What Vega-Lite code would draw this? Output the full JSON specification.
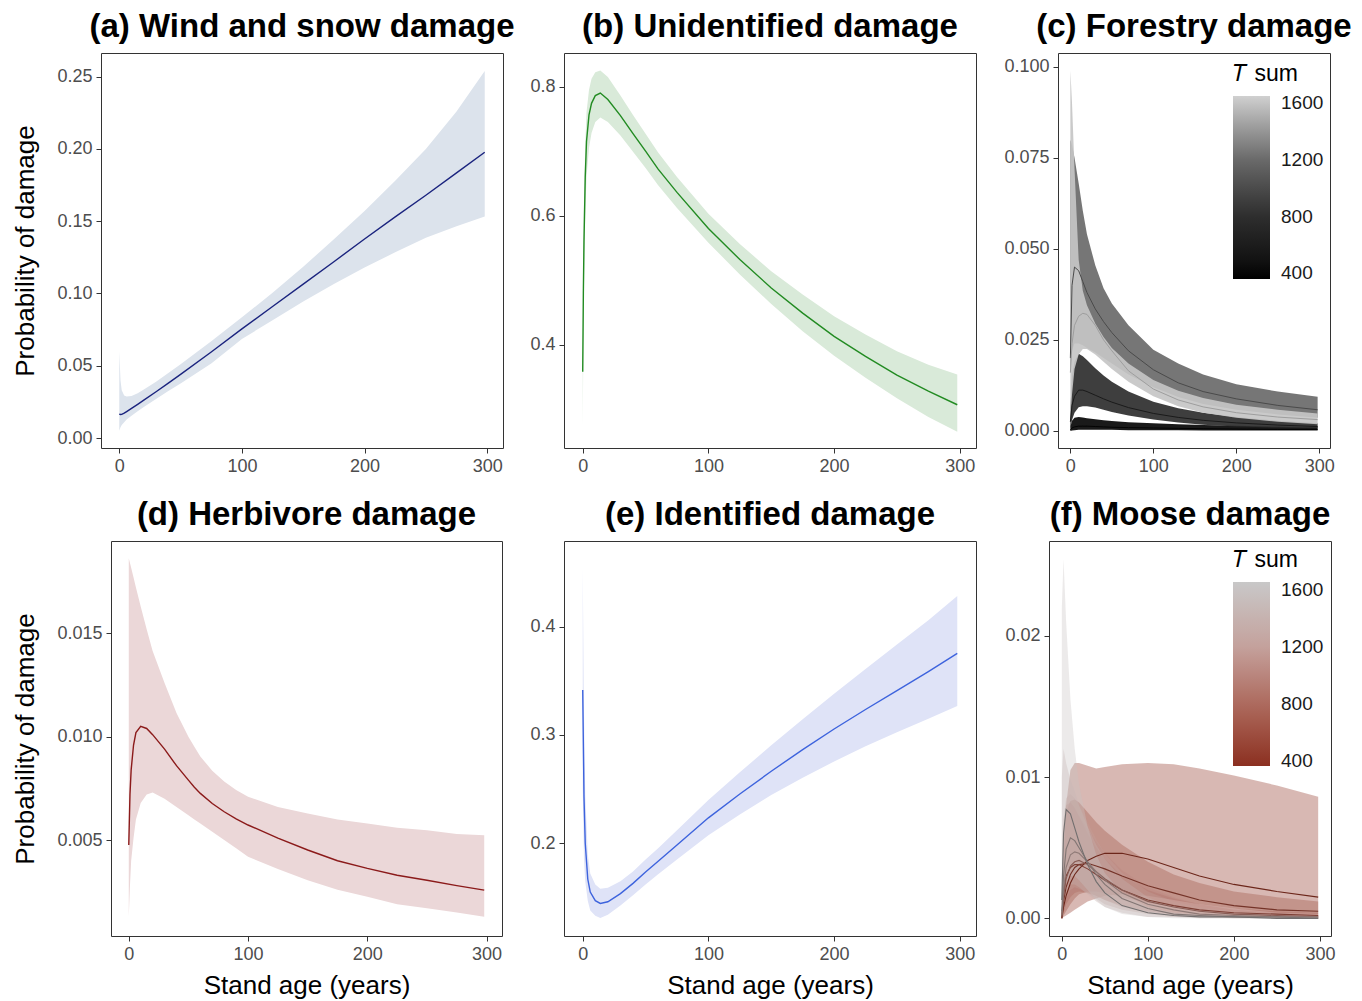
{
  "$schema": "https://vega.github.io/schema/vega-lite/v6.json",
  "background": "white",
  "padding": {"left": 10, "top": 10, "right": 0, "bottom": 0},
  "config": {
    "font": "Liberation Sans",
    "view": {"stroke": "#333333", "strokeWidth": 1},
    "axis": {"grid": false, "domain": false, "tickColor": "#333333", "tickSize": 5, "tickWidth": 1, "labelFontSize": 18, "labelColor": "#4d4d4d", "labelPadding": 4, "titleFontSize": 26, "titleColor": "#000000", "titleFontWeight": "normal"},
    "axisY": {"titlePadding": 18},
    "axisX": {"titlePadding": 9},
    "title": {"fontSize": 33, "fontWeight": "bold", "anchor": "middle", "frame": "group", "offset": 9, "color": "#000000"},
    "legend": {"padding": 0}
  },
  "datasets": {
    "a": [
      {"age": 0, "fit": 0.0166, "lo": 0.0051, "hi": 0.0600},
      {"age": 1, "fit": 0.0163, "lo": 0.0075, "hi": 0.0400},
      {"age": 2, "fit": 0.0164, "lo": 0.0090, "hi": 0.0330},
      {"age": 4, "fit": 0.0172, "lo": 0.0110, "hi": 0.0295},
      {"age": 6, "fit": 0.0183, "lo": 0.0128, "hi": 0.0288},
      {"age": 10, "fit": 0.0205, "lo": 0.0155, "hi": 0.0290},
      {"age": 15, "fit": 0.0233, "lo": 0.0185, "hi": 0.0310},
      {"age": 20, "fit": 0.0262, "lo": 0.0215, "hi": 0.0335},
      {"age": 30, "fit": 0.0320, "lo": 0.0270, "hi": 0.0390},
      {"age": 40, "fit": 0.0380, "lo": 0.0325, "hi": 0.0450},
      {"age": 50, "fit": 0.0440, "lo": 0.0378, "hi": 0.0510},
      {"age": 75, "fit": 0.0595, "lo": 0.0515, "hi": 0.0670},
      {"age": 100, "fit": 0.0755, "lo": 0.0685, "hi": 0.0835},
      {"age": 125, "fit": 0.0910, "lo": 0.0815, "hi": 0.1005},
      {"age": 150, "fit": 0.1065, "lo": 0.0945, "hi": 0.1185},
      {"age": 175, "fit": 0.1220, "lo": 0.1065, "hi": 0.1375},
      {"age": 200, "fit": 0.1377, "lo": 0.1180, "hi": 0.1570},
      {"age": 225, "fit": 0.1530, "lo": 0.1285, "hi": 0.1780},
      {"age": 250, "fit": 0.1680, "lo": 0.1385, "hi": 0.2000},
      {"age": 275, "fit": 0.1835, "lo": 0.1465, "hi": 0.2260},
      {"age": 298, "fit": 0.1977, "lo": 0.1532, "hi": 0.2540}
    ],
    "b": [
      {"age": 0, "fit": 0.358, "lo": 0.270, "hi": 0.375},
      {"age": 0.5, "fit": 0.480, "lo": 0.400, "hi": 0.550},
      {"age": 1, "fit": 0.560, "lo": 0.490, "hi": 0.625},
      {"age": 2, "fit": 0.660, "lo": 0.600, "hi": 0.710},
      {"age": 3, "fit": 0.715, "lo": 0.660, "hi": 0.760},
      {"age": 5, "fit": 0.756, "lo": 0.705, "hi": 0.795},
      {"age": 7, "fit": 0.774, "lo": 0.728, "hi": 0.812},
      {"age": 10, "fit": 0.786, "lo": 0.745, "hi": 0.822},
      {"age": 14, "fit": 0.790, "lo": 0.752, "hi": 0.825},
      {"age": 20, "fit": 0.780, "lo": 0.745, "hi": 0.815},
      {"age": 30, "fit": 0.755, "lo": 0.724, "hi": 0.786},
      {"age": 40, "fit": 0.727, "lo": 0.699, "hi": 0.756},
      {"age": 50, "fit": 0.700, "lo": 0.674, "hi": 0.727},
      {"age": 60, "fit": 0.672, "lo": 0.647, "hi": 0.698},
      {"age": 75, "fit": 0.636, "lo": 0.612, "hi": 0.660},
      {"age": 100, "fit": 0.580, "lo": 0.558, "hi": 0.603},
      {"age": 125, "fit": 0.532, "lo": 0.509, "hi": 0.556},
      {"age": 150, "fit": 0.488, "lo": 0.463, "hi": 0.514},
      {"age": 175, "fit": 0.449, "lo": 0.421, "hi": 0.478},
      {"age": 200, "fit": 0.413, "lo": 0.383, "hi": 0.444},
      {"age": 225, "fit": 0.382, "lo": 0.349, "hi": 0.416},
      {"age": 250, "fit": 0.353, "lo": 0.317, "hi": 0.390},
      {"age": 275, "fit": 0.328, "lo": 0.288, "hi": 0.369},
      {"age": 298, "fit": 0.307, "lo": 0.265, "hi": 0.354}
    ],
    "c": [
      {"age": 0, "T": 400, "fit": 0.0003, "lo": 0.0000, "hi": 0.0012},
      {"age": 2, "T": 400, "fit": 0.0008, "lo": 0.0001, "hi": 0.0028},
      {"age": 5, "T": 400, "fit": 0.0011, "lo": 0.0002, "hi": 0.0036},
      {"age": 10, "T": 400, "fit": 0.0013, "lo": 0.0003, "hi": 0.0038},
      {"age": 15, "T": 400, "fit": 0.0013, "lo": 0.0003, "hi": 0.0037},
      {"age": 20, "T": 400, "fit": 0.0013, "lo": 0.0003, "hi": 0.0035},
      {"age": 30, "T": 400, "fit": 0.0012, "lo": 0.0003, "hi": 0.0032},
      {"age": 40, "T": 400, "fit": 0.0011, "lo": 0.0003, "hi": 0.0029},
      {"age": 50, "T": 400, "fit": 0.0010, "lo": 0.0003, "hi": 0.0027},
      {"age": 70, "T": 400, "fit": 0.0009, "lo": 0.0002, "hi": 0.0024},
      {"age": 100, "T": 400, "fit": 0.0008, "lo": 0.0002, "hi": 0.0021},
      {"age": 130, "T": 400, "fit": 0.0007, "lo": 0.0002, "hi": 0.0018},
      {"age": 160, "T": 400, "fit": 0.0006, "lo": 0.0001, "hi": 0.0016},
      {"age": 200, "T": 400, "fit": 0.0005, "lo": 0.0001, "hi": 0.0014},
      {"age": 250, "T": 400, "fit": 0.0004, "lo": 0.0001, "hi": 0.0012},
      {"age": 298, "T": 400, "fit": 0.0004, "lo": 0.0001, "hi": 0.0010},
      {"age": 0, "T": 800, "fit": 0.0025, "lo": 0.0006, "hi": 0.0060},
      {"age": 2, "T": 800, "fit": 0.0070, "lo": 0.0030, "hi": 0.0150},
      {"age": 5, "T": 800, "fit": 0.0095, "lo": 0.0050, "hi": 0.0190},
      {"age": 10, "T": 800, "fit": 0.0112, "lo": 0.0065, "hi": 0.0212},
      {"age": 15, "T": 800, "fit": 0.0112, "lo": 0.0068, "hi": 0.0205},
      {"age": 20, "T": 800, "fit": 0.0108, "lo": 0.0068, "hi": 0.0195},
      {"age": 30, "T": 800, "fit": 0.0098, "lo": 0.0064, "hi": 0.0172},
      {"age": 40, "T": 800, "fit": 0.0088, "lo": 0.0058, "hi": 0.0152},
      {"age": 50, "T": 800, "fit": 0.0079, "lo": 0.0052, "hi": 0.0135},
      {"age": 70, "T": 800, "fit": 0.0064, "lo": 0.0042, "hi": 0.0108},
      {"age": 100, "T": 800, "fit": 0.0048, "lo": 0.0031, "hi": 0.0080},
      {"age": 130, "T": 800, "fit": 0.0037, "lo": 0.0023, "hi": 0.0062},
      {"age": 160, "T": 800, "fit": 0.0029, "lo": 0.0017, "hi": 0.0050},
      {"age": 200, "T": 800, "fit": 0.0022, "lo": 0.0012, "hi": 0.0038},
      {"age": 250, "T": 800, "fit": 0.0016, "lo": 0.0009, "hi": 0.0028},
      {"age": 298, "T": 800, "fit": 0.0012, "lo": 0.0007, "hi": 0.0021},
      {"age": 0, "T": 1200, "fit": 0.0200, "lo": 0.0160, "hi": 0.0800},
      {"age": 2, "T": 1200, "fit": 0.0400, "lo": 0.0220, "hi": 0.0785},
      {"age": 5, "T": 1200, "fit": 0.0450, "lo": 0.0240, "hi": 0.0750},
      {"age": 10, "T": 1200, "fit": 0.0440, "lo": 0.0240, "hi": 0.0680},
      {"age": 15, "T": 1200, "fit": 0.0410, "lo": 0.0235, "hi": 0.0605},
      {"age": 20, "T": 1200, "fit": 0.0380, "lo": 0.0228, "hi": 0.0540},
      {"age": 30, "T": 1200, "fit": 0.0335, "lo": 0.0215, "hi": 0.0455},
      {"age": 40, "T": 1200, "fit": 0.0300, "lo": 0.0200, "hi": 0.0392},
      {"age": 50, "T": 1200, "fit": 0.0270, "lo": 0.0185, "hi": 0.0350},
      {"age": 70, "T": 1200, "fit": 0.0220, "lo": 0.0155, "hi": 0.0290},
      {"age": 100, "T": 1200, "fit": 0.0168, "lo": 0.0120, "hi": 0.0223},
      {"age": 130, "T": 1200, "fit": 0.0132, "lo": 0.0093, "hi": 0.0185},
      {"age": 160, "T": 1200, "fit": 0.0108, "lo": 0.0074, "hi": 0.0155},
      {"age": 200, "T": 1200, "fit": 0.0088, "lo": 0.0058, "hi": 0.0128},
      {"age": 250, "T": 1200, "fit": 0.0070, "lo": 0.0045, "hi": 0.0108},
      {"age": 298, "T": 1200, "fit": 0.0058, "lo": 0.0036, "hi": 0.0094},
      {"age": 0, "T": 1600, "fit": 0.0160, "lo": 0.0030, "hi": 0.0990},
      {"age": 2, "T": 1600, "fit": 0.0240, "lo": 0.0100, "hi": 0.0900},
      {"age": 5, "T": 1600, "fit": 0.0290, "lo": 0.0170, "hi": 0.0720},
      {"age": 10, "T": 1600, "fit": 0.0315, "lo": 0.0210, "hi": 0.0470},
      {"age": 15, "T": 1600, "fit": 0.0323, "lo": 0.0225, "hi": 0.0385},
      {"age": 20, "T": 1600, "fit": 0.0320, "lo": 0.0225, "hi": 0.0345},
      {"age": 30, "T": 1600, "fit": 0.0290, "lo": 0.0210, "hi": 0.0295},
      {"age": 40, "T": 1600, "fit": 0.0250, "lo": 0.0190, "hi": 0.0258},
      {"age": 50, "T": 1600, "fit": 0.0220, "lo": 0.0170, "hi": 0.0228},
      {"age": 70, "T": 1600, "fit": 0.0165, "lo": 0.0135, "hi": 0.0185},
      {"age": 100, "T": 1600, "fit": 0.0115, "lo": 0.0095, "hi": 0.0140},
      {"age": 130, "T": 1600, "fit": 0.0085, "lo": 0.0068, "hi": 0.0110},
      {"age": 160, "T": 1600, "fit": 0.0066, "lo": 0.0050, "hi": 0.0090},
      {"age": 200, "T": 1600, "fit": 0.0050, "lo": 0.0036, "hi": 0.0072},
      {"age": 250, "T": 1600, "fit": 0.0038, "lo": 0.0025, "hi": 0.0058},
      {"age": 298, "T": 1600, "fit": 0.0031, "lo": 0.0018, "hi": 0.0048}
    ],
    "d": [
      {"age": 0, "fit": 0.00476, "lo": 0.00129, "hi": 0.01863},
      {"age": 1, "fit": 0.0072, "lo": 0.0028, "hi": 0.0184},
      {"age": 2, "fit": 0.0084, "lo": 0.0040, "hi": 0.01817},
      {"age": 4, "fit": 0.0096, "lo": 0.0051, "hi": 0.0177},
      {"age": 6, "fit": 0.0102, "lo": 0.0060, "hi": 0.01722},
      {"age": 10, "fit": 0.0105, "lo": 0.0068, "hi": 0.0163},
      {"age": 15, "fit": 0.0104, "lo": 0.0072, "hi": 0.0152},
      {"age": 20, "fit": 0.0101, "lo": 0.0073, "hi": 0.01415},
      {"age": 30, "fit": 0.0094, "lo": 0.0070, "hi": 0.0126},
      {"age": 40, "fit": 0.0086, "lo": 0.0066, "hi": 0.01115},
      {"age": 50, "fit": 0.0079, "lo": 0.0062, "hi": 0.0100},
      {"age": 55, "fit": 0.00756, "lo": 0.0060, "hi": 0.00952},
      {"age": 60, "fit": 0.00726, "lo": 0.0058, "hi": 0.00905},
      {"age": 70, "fit": 0.00677, "lo": 0.0054, "hi": 0.00835},
      {"age": 80, "fit": 0.00637, "lo": 0.0050, "hi": 0.00783},
      {"age": 90, "fit": 0.00603, "lo": 0.0046, "hi": 0.00742},
      {"age": 100, "fit": 0.00573, "lo": 0.00419, "hi": 0.0071},
      {"age": 125, "fit": 0.0051, "lo": 0.0036, "hi": 0.0066},
      {"age": 150, "fit": 0.00452, "lo": 0.00306, "hi": 0.00629},
      {"age": 175, "fit": 0.0040, "lo": 0.0026, "hi": 0.0060},
      {"age": 200, "fit": 0.00363, "lo": 0.00226, "hi": 0.0058},
      {"age": 225, "fit": 0.0033, "lo": 0.0019, "hi": 0.0056},
      {"age": 250, "fit": 0.00306, "lo": 0.0017, "hi": 0.00548},
      {"age": 275, "fit": 0.0028, "lo": 0.0015, "hi": 0.0053},
      {"age": 298, "fit": 0.00258, "lo": 0.00129, "hi": 0.00524}
    ],
    "e": [
      {"age": 0, "fit": 0.3416, "lo": 0.250, "hi": 0.455},
      {"age": 1, "fit": 0.243, "lo": 0.185, "hi": 0.320},
      {"age": 2, "fit": 0.200, "lo": 0.165, "hi": 0.245},
      {"age": 4, "fit": 0.167, "lo": 0.147, "hi": 0.190},
      {"age": 6, "fit": 0.155, "lo": 0.138, "hi": 0.172},
      {"age": 10, "fit": 0.147, "lo": 0.133, "hi": 0.162},
      {"age": 14, "fit": 0.1445, "lo": 0.131, "hi": 0.158},
      {"age": 20, "fit": 0.146, "lo": 0.134, "hi": 0.159},
      {"age": 30, "fit": 0.1535, "lo": 0.1425, "hi": 0.165},
      {"age": 40, "fit": 0.163, "lo": 0.152, "hi": 0.174},
      {"age": 50, "fit": 0.1735, "lo": 0.162, "hi": 0.185},
      {"age": 60, "fit": 0.1835, "lo": 0.1715, "hi": 0.1955},
      {"age": 75, "fit": 0.1985, "lo": 0.185, "hi": 0.212},
      {"age": 100, "fit": 0.2235, "lo": 0.2075, "hi": 0.240},
      {"age": 125, "fit": 0.2455, "lo": 0.2265, "hi": 0.2655},
      {"age": 150, "fit": 0.2665, "lo": 0.2445, "hi": 0.2905},
      {"age": 175, "fit": 0.2865, "lo": 0.2605, "hi": 0.3145},
      {"age": 200, "fit": 0.3055, "lo": 0.2755, "hi": 0.338},
      {"age": 225, "fit": 0.3235, "lo": 0.2895, "hi": 0.361},
      {"age": 250, "fit": 0.341, "lo": 0.3025, "hi": 0.3835},
      {"age": 275, "fit": 0.3585, "lo": 0.315, "hi": 0.406},
      {"age": 298, "fit": 0.3754, "lo": 0.3268, "hi": 0.4283}
    ],
    "f": [
      {"age": 0, "T": 400, "fit": 0.0000, "lo": 0.0000, "hi": 0.0003},
      {"age": 2, "T": 400, "fit": 0.0008, "lo": 0.0001, "hi": 0.0040},
      {"age": 5, "T": 400, "fit": 0.0016, "lo": 0.0002, "hi": 0.0080},
      {"age": 10, "T": 400, "fit": 0.0025, "lo": 0.0004, "hi": 0.0105},
      {"age": 15, "T": 400, "fit": 0.0031, "lo": 0.0006, "hi": 0.0110},
      {"age": 20, "T": 400, "fit": 0.0035, "lo": 0.0008, "hi": 0.0110},
      {"age": 30, "T": 400, "fit": 0.0041, "lo": 0.0012, "hi": 0.0108},
      {"age": 40, "T": 400, "fit": 0.0044, "lo": 0.0014, "hi": 0.0106},
      {"age": 50, "T": 400, "fit": 0.0046, "lo": 0.0016, "hi": 0.0107},
      {"age": 70, "T": 400, "fit": 0.0046, "lo": 0.0017, "hi": 0.0109},
      {"age": 100, "T": 400, "fit": 0.0042, "lo": 0.0016, "hi": 0.0110},
      {"age": 130, "T": 400, "fit": 0.0036, "lo": 0.0013, "hi": 0.0109},
      {"age": 160, "T": 400, "fit": 0.0030, "lo": 0.0010, "hi": 0.0106},
      {"age": 200, "T": 400, "fit": 0.0024, "lo": 0.0007, "hi": 0.0101},
      {"age": 250, "T": 400, "fit": 0.0019, "lo": 0.0004, "hi": 0.0094},
      {"age": 298, "T": 400, "fit": 0.0015, "lo": 0.0003, "hi": 0.0086},
      {"age": 0, "T": 600, "fit": 0.0000, "lo": 0.0000, "hi": 0.0005},
      {"age": 2, "T": 600, "fit": 0.0012, "lo": 0.0002, "hi": 0.0050},
      {"age": 5, "T": 600, "fit": 0.0022, "lo": 0.0005, "hi": 0.0075},
      {"age": 10, "T": 600, "fit": 0.0031, "lo": 0.0010, "hi": 0.0083},
      {"age": 15, "T": 600, "fit": 0.0036, "lo": 0.0014, "hi": 0.0084},
      {"age": 20, "T": 600, "fit": 0.0038, "lo": 0.0017, "hi": 0.0082},
      {"age": 30, "T": 600, "fit": 0.0039, "lo": 0.0019, "hi": 0.0075},
      {"age": 40, "T": 600, "fit": 0.0037, "lo": 0.0019, "hi": 0.0068},
      {"age": 50, "T": 600, "fit": 0.0035, "lo": 0.0018, "hi": 0.0062},
      {"age": 70, "T": 600, "fit": 0.0030, "lo": 0.0015, "hi": 0.0052},
      {"age": 100, "T": 600, "fit": 0.0023, "lo": 0.0011, "hi": 0.0040},
      {"age": 130, "T": 600, "fit": 0.0018, "lo": 0.0008, "hi": 0.0031},
      {"age": 160, "T": 600, "fit": 0.0013, "lo": 0.0005, "hi": 0.0025},
      {"age": 200, "T": 600, "fit": 0.0009, "lo": 0.0003, "hi": 0.0019},
      {"age": 250, "T": 600, "fit": 0.0006, "lo": 0.0002, "hi": 0.0015},
      {"age": 298, "T": 600, "fit": 0.0005, "lo": 0.0001, "hi": 0.0012},
      {"age": 0, "T": 800, "fit": 0.0001, "lo": 0.0000, "hi": 0.0010},
      {"age": 2, "T": 800, "fit": 0.0018, "lo": 0.0004, "hi": 0.0065},
      {"age": 5, "T": 800, "fit": 0.0030, "lo": 0.0010, "hi": 0.0080},
      {"age": 10, "T": 800, "fit": 0.0036, "lo": 0.0015, "hi": 0.0082},
      {"age": 15, "T": 800, "fit": 0.0038, "lo": 0.0018, "hi": 0.0078},
      {"age": 20, "T": 800, "fit": 0.0038, "lo": 0.0019, "hi": 0.0072},
      {"age": 30, "T": 800, "fit": 0.0035, "lo": 0.0018, "hi": 0.0060},
      {"age": 40, "T": 800, "fit": 0.0031, "lo": 0.0016, "hi": 0.0050},
      {"age": 50, "T": 800, "fit": 0.0027, "lo": 0.0013, "hi": 0.0042},
      {"age": 70, "T": 800, "fit": 0.0020, "lo": 0.0009, "hi": 0.0030},
      {"age": 100, "T": 800, "fit": 0.0013, "lo": 0.0005, "hi": 0.0020},
      {"age": 130, "T": 800, "fit": 0.0009, "lo": 0.0003, "hi": 0.0014},
      {"age": 160, "T": 800, "fit": 0.0006, "lo": 0.0002, "hi": 0.0010},
      {"age": 200, "T": 800, "fit": 0.0004, "lo": 0.0001, "hi": 0.0007},
      {"age": 250, "T": 800, "fit": 0.0003, "lo": 0.0001, "hi": 0.0005},
      {"age": 298, "T": 800, "fit": 0.0002, "lo": 0.0000, "hi": 0.0004},
      {"age": 0, "T": 1000, "fit": 0.0001, "lo": 0.0000, "hi": 0.0015},
      {"age": 2, "T": 1000, "fit": 0.0015, "lo": 0.0004, "hi": 0.0060},
      {"age": 5, "T": 1000, "fit": 0.0028, "lo": 0.0010, "hi": 0.0075},
      {"age": 10, "T": 1000, "fit": 0.0037, "lo": 0.0016, "hi": 0.0078},
      {"age": 15, "T": 1000, "fit": 0.0040, "lo": 0.0019, "hi": 0.0076},
      {"age": 20, "T": 1000, "fit": 0.0041, "lo": 0.0020, "hi": 0.0072},
      {"age": 30, "T": 1000, "fit": 0.0038, "lo": 0.0019, "hi": 0.0063},
      {"age": 40, "T": 1000, "fit": 0.0033, "lo": 0.0016, "hi": 0.0054},
      {"age": 50, "T": 1000, "fit": 0.0028, "lo": 0.0013, "hi": 0.0046},
      {"age": 70, "T": 1000, "fit": 0.0020, "lo": 0.0008, "hi": 0.0034},
      {"age": 100, "T": 1000, "fit": 0.0012, "lo": 0.0004, "hi": 0.0022},
      {"age": 130, "T": 1000, "fit": 0.0008, "lo": 0.0002, "hi": 0.0015},
      {"age": 160, "T": 1000, "fit": 0.0005, "lo": 0.0001, "hi": 0.0010},
      {"age": 200, "T": 1000, "fit": 0.0003, "lo": 0.0001, "hi": 0.0006},
      {"age": 250, "T": 1000, "fit": 0.0002, "lo": 0.0000, "hi": 0.0004},
      {"age": 298, "T": 1000, "fit": 0.0001, "lo": 0.0000, "hi": 0.0003},
      {"age": 0, "T": 1200, "fit": 0.0002, "lo": 0.0000, "hi": 0.0030},
      {"age": 2, "T": 1200, "fit": 0.0020, "lo": 0.0006, "hi": 0.0070},
      {"age": 5, "T": 1200, "fit": 0.0036, "lo": 0.0014, "hi": 0.0085},
      {"age": 10, "T": 1200, "fit": 0.0045, "lo": 0.0020, "hi": 0.0088},
      {"age": 15, "T": 1200, "fit": 0.0047, "lo": 0.0022, "hi": 0.0085},
      {"age": 20, "T": 1200, "fit": 0.0046, "lo": 0.0021, "hi": 0.0080},
      {"age": 30, "T": 1200, "fit": 0.0040, "lo": 0.0018, "hi": 0.0068},
      {"age": 40, "T": 1200, "fit": 0.0033, "lo": 0.0014, "hi": 0.0056},
      {"age": 50, "T": 1200, "fit": 0.0027, "lo": 0.0010, "hi": 0.0046},
      {"age": 70, "T": 1200, "fit": 0.0018, "lo": 0.0006, "hi": 0.0032},
      {"age": 100, "T": 1200, "fit": 0.0010, "lo": 0.0003, "hi": 0.0019},
      {"age": 130, "T": 1200, "fit": 0.0006, "lo": 0.0001, "hi": 0.0012},
      {"age": 160, "T": 1200, "fit": 0.0003, "lo": 0.0001, "hi": 0.0008},
      {"age": 200, "T": 1200, "fit": 0.0002, "lo": 0.0000, "hi": 0.0005},
      {"age": 250, "T": 1200, "fit": 0.0001, "lo": 0.0000, "hi": 0.0003},
      {"age": 298, "T": 1200, "fit": 0.0001, "lo": 0.0000, "hi": 0.0002},
      {"age": 0, "T": 1400, "fit": 0.0005, "lo": 0.0000, "hi": 0.0100},
      {"age": 2, "T": 1400, "fit": 0.0030, "lo": 0.0008, "hi": 0.0120},
      {"age": 5, "T": 1400, "fit": 0.0049, "lo": 0.0018, "hi": 0.0110},
      {"age": 10, "T": 1400, "fit": 0.0057, "lo": 0.0024, "hi": 0.0098},
      {"age": 15, "T": 1400, "fit": 0.0055, "lo": 0.0024, "hi": 0.0090},
      {"age": 20, "T": 1400, "fit": 0.0050, "lo": 0.0022, "hi": 0.0080},
      {"age": 30, "T": 1400, "fit": 0.0040, "lo": 0.0017, "hi": 0.0065},
      {"age": 40, "T": 1400, "fit": 0.0031, "lo": 0.0012, "hi": 0.0052},
      {"age": 50, "T": 1400, "fit": 0.0024, "lo": 0.0008, "hi": 0.0042},
      {"age": 70, "T": 1400, "fit": 0.0014, "lo": 0.0004, "hi": 0.0028},
      {"age": 100, "T": 1400, "fit": 0.0007, "lo": 0.0001, "hi": 0.0015},
      {"age": 130, "T": 1400, "fit": 0.0003, "lo": 0.0001, "hi": 0.0008},
      {"age": 160, "T": 1400, "fit": 0.0002, "lo": 0.0000, "hi": 0.0005},
      {"age": 200, "T": 1400, "fit": 0.0001, "lo": 0.0000, "hi": 0.0003},
      {"age": 250, "T": 1400, "fit": 0.0001, "lo": 0.0000, "hi": 0.0002},
      {"age": 298, "T": 1400, "fit": 0.0000, "lo": 0.0000, "hi": 0.0001},
      {"age": 0, "T": 1600, "fit": 0.0013, "lo": 0.0001, "hi": 0.0220},
      {"age": 2, "T": 1600, "fit": 0.0060, "lo": 0.0015, "hi": 0.0254},
      {"age": 5, "T": 1600, "fit": 0.0077, "lo": 0.0025, "hi": 0.0210},
      {"age": 10, "T": 1600, "fit": 0.0074, "lo": 0.0030, "hi": 0.0155},
      {"age": 15, "T": 1600, "fit": 0.0064, "lo": 0.0030, "hi": 0.0120},
      {"age": 20, "T": 1600, "fit": 0.0054, "lo": 0.0027, "hi": 0.0095},
      {"age": 30, "T": 1600, "fit": 0.0038, "lo": 0.0020, "hi": 0.0065},
      {"age": 40, "T": 1600, "fit": 0.0026, "lo": 0.0013, "hi": 0.0045},
      {"age": 50, "T": 1600, "fit": 0.0018, "lo": 0.0008, "hi": 0.0032},
      {"age": 70, "T": 1600, "fit": 0.0009, "lo": 0.0003, "hi": 0.0018},
      {"age": 100, "T": 1600, "fit": 0.0004, "lo": 0.0001, "hi": 0.0008},
      {"age": 130, "T": 1600, "fit": 0.0002, "lo": 0.0000, "hi": 0.0004},
      {"age": 160, "T": 1600, "fit": 0.0001, "lo": 0.0000, "hi": 0.0003},
      {"age": 200, "T": 1600, "fit": 0.0001, "lo": 0.0000, "hi": 0.0002},
      {"age": 250, "T": 1600, "fit": 0.0000, "lo": 0.0000, "hi": 0.0001},
      {"age": 298, "T": 1600, "fit": 0.0000, "lo": 0.0000, "hi": 0.0001}
    ]
  },
  "columns": 1,
  "spacing": 22,
  "resolve": {"scale": {"color": "independent"}, "legend": {"color": "independent"}},
  "concat": [
    {
      "spacing": 0,
      "resolve": {"scale": {"color": "independent"}, "legend": {"color": "independent"}},
      "hconcat": [
        {"width": 1, "height": 1, "view": {"stroke": null}, "data": {"values": []}, "mark": "point", "encoding": {}},
        {
          "spacing": 13,
          "resolve": {"scale": {"color": "independent"}, "legend": {"color": "independent"}},
          "hconcat": [
            {
              "width": 402, "height": 395,
              "title": {"text": "(a) Wind and snow damage"},
              "data": {"name": "a"},
              "layer": [
                {"mark": {"type": "area", "color": "#dce3ec"},
                 "encoding": {
                   "x": {"field": "age", "type": "quantitative", "scale": {"domain": [-14.9, 312.9], "nice": false, "zero": false}, "axis": {"values": [0, 100, 200, 300], "format": "d", "title": null}},
                   "y": {"field": "lo", "type": "quantitative", "scale": {"domain": [-0.0069, 0.2664], "nice": false, "zero": false}, "axis": {"values": [0, 0.05, 0.1, 0.15, 0.2, 0.25], "format": ".2f", "title": "Probability of damage", "minExtent": 45, "maxExtent": 45}},
                   "y2": {"field": "hi"}}},
                {"mark": {"type": "line", "color": "#1a237e", "strokeWidth": 1.4},
                 "encoding": {
                   "x": {"field": "age", "type": "quantitative", "axis": {"values": [0, 100, 200, 300], "format": "d", "title": null}},
                   "y": {"field": "fit", "type": "quantitative", "axis": {"values": [0, 0.05, 0.1, 0.15, 0.2, 0.25], "format": ".2f", "title": "Probability of damage", "minExtent": 45, "maxExtent": 45}}}}
              ]
            },
            {
              "width": 412, "height": 395,
              "title": {"text": "(b) Unidentified damage"},
              "data": {"name": "b"},
              "layer": [
                {"mark": {"type": "area", "color": "#d9ead9"},
                 "encoding": {
                   "x": {"field": "age", "type": "quantitative", "scale": {"domain": [-14.9, 312.9], "nice": false, "zero": false}, "axis": {"values": [0, 100, 200, 300], "format": "d", "title": null}},
                   "y": {"field": "lo", "type": "quantitative", "scale": {"domain": [0.24, 0.852], "nice": false, "zero": false}, "axis": {"values": [0.4, 0.6, 0.8], "format": ".1f", "title": null, "minExtent": 34, "maxExtent": 34}},
                   "y2": {"field": "hi"}}},
                {"mark": {"type": "line", "color": "#228b22", "strokeWidth": 1.4},
                 "encoding": {
                   "x": {"field": "age", "type": "quantitative", "axis": {"values": [0, 100, 200, 300], "format": "d", "title": null}},
                   "y": {"field": "fit", "type": "quantitative", "axis": {"values": [0.4, 0.6, 0.8], "format": ".1f", "title": null, "minExtent": 34, "maxExtent": 34}}}}
              ]
            },
            {
              "width": 272, "height": 395,
              "title": {"text": "(c) Forestry damage"},
              "data": {"name": "c"},
              "resolve": {"scale": {"color": "independent"}, "legend": {"color": "independent"}},
              "layer": [
                {"mark": {"type": "area", "fillOpacity": 0.92},
                 "encoding": {
                   "x": {"field": "age", "type": "quantitative", "scale": {"domain": [-14.9, 312.9], "nice": false, "zero": false}, "axis": {"values": [0, 100, 200, 300], "format": "d", "title": null}},
                   "y": {"field": "lo", "type": "quantitative", "scale": {"domain": [-0.0047, 0.1038], "nice": false, "zero": false}, "axis": {"values": [0, 0.025, 0.05, 0.075, 0.1], "format": ".3f", "title": null, "minExtent": 67, "maxExtent": 67}},
                   "y2": {"field": "hi"},
                   "detail": {"field": "T", "type": "nominal"},
                   "color": {"field": "T", "type": "quantitative",
                     "scale": {"domain": [361, 800, 1200, 1647], "range": ["#000000", "#2e2e2e", "#6a6a6a", "#d0d0d0"]},
                     "legend": {"orient": "none", "legendX": 175, "legendY": 10, "title": "𝑇 sum", "titleFontSize": 23, "titleFontWeight": "normal", "titleColor": "#000000", "titlePadding": 10, "gradientLength": 183, "gradientThickness": 37, "gradientStrokeWidth": 0, "labelFontSize": 19, "labelColor": "#1a1a1a", "labelOffset": 11, "format": "d", "values": [400, 800, 1200, 1600], "direction": "vertical", "labelOverlap": false}}}},
                {"mark": {"type": "line", "strokeWidth": 1},
                 "encoding": {
                   "x": {"field": "age", "type": "quantitative", "axis": {"values": [0, 100, 200, 300], "format": "d", "title": null}},
                   "y": {"field": "fit", "type": "quantitative", "axis": {"values": [0, 0.025, 0.05, 0.075, 0.1], "format": ".3f", "title": null, "minExtent": 67, "maxExtent": 67}},
                   "detail": {"field": "T", "type": "nominal"},
                   "color": {"field": "T", "type": "quantitative", "legend": null,
                     "scale": {"domain": [361, 800, 1200, 1647], "range": ["#000000", "#1a1a1a", "#4a4a4a", "#a8a8a8"]}}}}
              ]
            }
          ]
        }
      ]
    },
    {
      "spacing": 0,
      "resolve": {"scale": {"color": "independent"}, "legend": {"color": "independent"}},
      "hconcat": [
        {"width": 1, "height": 1, "view": {"stroke": null}, "data": {"values": []}, "mark": "point", "encoding": {}},
        {
          "spacing": 26,
          "resolve": {"scale": {"color": "independent"}, "legend": {"color": "independent"}},
          "hconcat": [
            {
              "width": 391, "height": 395,
              "title": {"text": "(d) Herbivore damage"},
              "data": {"name": "d"},
              "layer": [
                {"mark": {"type": "area", "color": "#ebd7d8"},
                 "encoding": {
                   "x": {"field": "age", "type": "quantitative", "scale": {"domain": [-14.9, 312.9], "nice": false, "zero": false}, "axis": {"values": [0, 100, 200, 300], "format": "d", "title": "Stand age (years)"}},
                   "y": {"field": "lo", "type": "quantitative", "scale": {"domain": [0.00036, 0.01947], "nice": false, "zero": false}, "axis": {"values": [0.005, 0.01, 0.015], "format": ".3f", "title": "Probability of damage", "minExtent": 55, "maxExtent": 55}},
                   "y2": {"field": "hi"}}},
                {"mark": {"type": "line", "color": "#8b1a1a", "strokeWidth": 1.4},
                 "encoding": {
                   "x": {"field": "age", "type": "quantitative", "axis": {"values": [0, 100, 200, 300], "format": "d", "title": "Stand age (years)"}},
                   "y": {"field": "fit", "type": "quantitative", "axis": {"values": [0.005, 0.01, 0.015], "format": ".3f", "title": "Probability of damage", "minExtent": 55, "maxExtent": 55}}}}
              ]
            },
            {
              "width": 412, "height": 395,
              "title": {"text": "(e) Identified damage"},
              "data": {"name": "e"},
              "layer": [
                {"mark": {"type": "area", "color": "#dfe3f7"},
                 "encoding": {
                   "x": {"field": "age", "type": "quantitative", "scale": {"domain": [-14.9, 312.9], "nice": false, "zero": false}, "axis": {"values": [0, 100, 200, 300], "format": "d", "title": "Stand age (years)"}},
                   "y": {"field": "lo", "type": "quantitative", "scale": {"domain": [0.1144, 0.4791], "nice": false, "zero": false}, "axis": {"values": [0.2, 0.3, 0.4], "format": ".1f", "title": null, "minExtent": 34, "maxExtent": 34}},
                   "y2": {"field": "hi"}}},
                {"mark": {"type": "line", "color": "#3d63dd", "strokeWidth": 1.4},
                 "encoding": {
                   "x": {"field": "age", "type": "quantitative", "axis": {"values": [0, 100, 200, 300], "format": "d", "title": "Stand age (years)"}},
                   "y": {"field": "fit", "type": "quantitative", "axis": {"values": [0.2, 0.3, 0.4], "format": ".1f", "title": null, "minExtent": 34, "maxExtent": 34}}}}
              ]
            },
            {
              "width": 282, "height": 395,
              "title": {"text": "(f) Moose damage"},
              "data": {"name": "f"},
              "resolve": {"scale": {"color": "independent"}, "legend": {"color": "independent"}},
              "layer": [
                {"mark": {"type": "area", "fillOpacity": 0.35},
                 "encoding": {
                   "x": {"field": "age", "type": "quantitative", "scale": {"domain": [-14.9, 312.9], "nice": false, "zero": false}, "axis": {"values": [0, 100, 200, 300], "format": "d", "title": "Stand age (years)"}},
                   "y": {"field": "lo", "type": "quantitative", "scale": {"domain": [-0.00125, 0.0267], "nice": false, "zero": false}, "axis": {"values": [0, 0.01, 0.02], "format": ".2f", "title": null, "minExtent": 45, "maxExtent": 45}},
                   "y2": {"field": "hi"},
                   "detail": {"field": "T", "type": "nominal"},
                   "color": {"field": "T", "type": "quantitative",
                     "scale": {"domain": [367, 800, 1200, 1654], "range": ["#8b2f20", "#ad6a5e", "#c4a19c", "#c8c8c8"]},
                     "legend": {"orient": "none", "legendX": 184, "legendY": 8, "title": "𝑇 sum", "titleFontSize": 23, "titleFontWeight": "normal", "titleColor": "#000000", "titlePadding": 10, "gradientLength": 184, "gradientThickness": 37, "gradientStrokeWidth": 0, "labelFontSize": 19, "labelColor": "#1a1a1a", "labelOffset": 11, "format": "d", "values": [400, 800, 1200, 1600], "direction": "vertical", "labelOverlap": false}}}},
                {"mark": {"type": "line", "strokeWidth": 1.1},
                 "encoding": {
                   "x": {"field": "age", "type": "quantitative", "axis": {"values": [0, 100, 200, 300], "format": "d", "title": "Stand age (years)"}},
                   "y": {"field": "fit", "type": "quantitative", "axis": {"values": [0, 0.01, 0.02], "format": ".2f", "title": null, "minExtent": 45, "maxExtent": 45}},
                   "detail": {"field": "T", "type": "nominal"},
                   "color": {"field": "T", "type": "quantitative", "legend": null,
                     "scale": {"domain": [367, 800, 1200, 1654], "range": ["#6a2418", "#7d4036", "#8f7a77", "#6e6e6e"]}}}}
              ]
            }
          ]
        }
      ]
    }
  ]
}
